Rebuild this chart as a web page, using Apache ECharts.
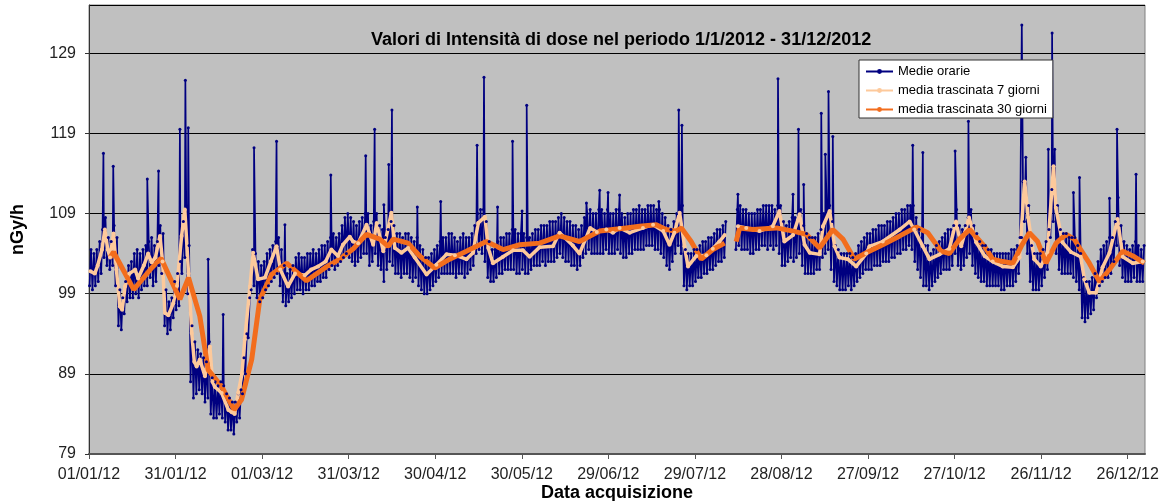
<!doctype html>
<html>
<head>
<meta charset="utf-8">
<title>Valori di Intensità di dose 2012</title>
<script src="https://cdn.jsdelivr.net/npm/echarts@6/dist/echarts.min.js"></script>
<style type="text/css">
	html, body {margin:0; padding:0; background:#fff;}
	#chart {width:1166px; height:501px;}
</style>
</head>
<body>
<div id="chart"></div>
<script type="text/javascript">
// etichette asse x, una ogni 30 giorni dal 01/01/12
var dateLabels = ['01/01/12','31/01/12','01/03/12','31/03/12','30/04/12','30/05/12','29/06/12',
                  '29/07/12','28/08/12','27/09/12','27/10/12','26/11/12','26/12/12'];

// medie orarie: minimo e massimo della fascia per ogni giorno (giorno 0 = 01/01/12)
var bandLo = [
	100, 99.5, 100, 100.5, 101.5, 103.5, 102.5, 102, 102.5, 100,
	95, 94.5, 96.5, 98, 98.5, 98.5, 99, 98.5, 99.5, 100,
	100, 101, 100, 100.5, 102.5, 101.5, 95, 94, 94.5, 96,
	97, 97.5, 101.5, 103.5, 99, 88, 86, 86.5, 87, 86.5,
	85.5, 86, 84, 83.5, 83.5, 84, 83.5, 83, 82, 82,
	81.5, 83, 83.5, 86.5, 89, 93.5, 99.5, 100, 98.5, 98,
	98.5, 99.5, 100, 100.5, 101, 101.5, 100, 98, 97.5, 98,
	98.5, 99, 99.5, 99.5, 99, 99.5, 99.5, 100, 100, 100.5,
	100.5, 101, 101, 102, 102.5, 102, 102.5, 103, 103.5, 104,
	103.5, 103, 102.5, 103, 103.5, 104, 104, 102.5, 103, 104,
	102.5, 102, 100.5, 102, 103, 102.5, 101.5, 101.5, 101, 101.5,
	101.5, 101, 100.5, 101, 100, 99.5, 99, 99, 99.5, 100,
	100.5, 101, 101.5, 101.5, 101.5, 101.5, 101.5, 101, 101.5, 101.5,
	101, 101.5, 102, 102.5, 104, 104.5, 104, 103, 101, 100.5,
	100.5, 101, 101.5, 101.5, 102, 102, 102, 102, 101.5, 101.5,
	102, 101.5, 101.5, 102, 102.5, 102.5, 102.5, 103, 102.5, 103,
	103, 103, 103.5, 104, 103.5, 103, 103, 102.5, 102.5, 102,
	102.5, 103.5, 104, 104.5, 104, 104, 104, 104, 104, 104.5,
	104, 104, 104, 104.5, 104, 103.5, 103.5, 104, 104, 104.5,
	104.5, 104.5, 104.5, 105, 105, 105, 104.5, 104.5, 104, 103.5,
	102.5, 102, 103, 104, 105, 104, 100, 99.5, 100, 100,
	100.5, 101, 101, 101.5, 101.5, 102, 102, 102.5, 103, 103,
	103.5, null, null, null, 104.5, 105, 104.5, 104.5, 104.5, 104,
	104, 104.5, 104.5, 105, 105, 104.5, 105, 104.5, 105, 104,
	102.5, 102.5, 103, 103.5, 103, 103.5, 104, 102.5, 101.5, 101.5,
	101.5, 101.5, 102, 102, 103.5, 104, 104.5, 102, 100.5, 100,
	99.5, 99.5, 99.5, 100, 99.5, 100, 100.5, 101, 101.5, 102,
	102, 102, 102.5, 102.5, 102.5, 103, 103, 103, 103.5, 103.5,
	104, 104, 104.5, 104.5, 105, 104.5, 103, 102, 101, 100,
	100, 99.5, 100, 100.5, 101, 101.5, 102, 102, 102, 102.5,
	104, 102.5, 102, 102.5, 103.5, 104, 102.5, 101.5, 101, 100.5,
	100.5, 100, 100, 100, 100, 100, 99.5, 99.5, 100, 100,
	100, 100.5, 101.5, 106, 108, 104, 100.5, 99.5, 99.5, 99.5,
	100, 101, 102, 106, 108, 104, 102, 101.5, 101.5, 101.5,
	101.5, 101, 100.5, 99.5, 96, 95.5, 96, 96.5, 97, 98.5,
	100, 100.5, 101, 101, 101.5, 103, 105, 102.5, 101, 100.5,
	100.5, 100.5, 101, 100.5, 100.5, 100.5
];
var bandHi = [
	104.5, 104, 104.5, 105.5, 107, 108.5, 106, 105.5, 107.5, 106,
	99.5, 98.5, 100.5, 102.5, 103, 104, 104.5, 104, 104.5, 105,
	105.5, 106, 105, 105.5, 107.5, 106.5, 99.5, 98, 98.5, 100.5,
	101.5, 103, 108, 110, 105, 95, 93, 92, 91.5, 91,
	90.5, 93, 88.5, 88, 87.5, 88, 87.5, 86.5, 86, 85.5,
	85.5, 86.5, 87, 91, 94, 98.5, 104.5, 104, 103, 102.5,
	103, 104, 104.5, 105, 105.5, 106, 104.5, 102.5, 101.5, 102,
	102.5, 103.5, 104, 103.5, 103.5, 104, 104, 104.5, 104, 104.5,
	105, 105, 105.5, 106, 106.5, 106, 106.5, 107.5, 108.5, 109,
	108.5, 108, 107.5, 108, 108.5, 109, 109, 107.5, 108, 109,
	107.5, 107, 106, 107, 108, 107.5, 106.5, 106.5, 106, 106.5,
	106.5, 106, 105.5, 106, 105, 104.5, 103.5, 103.5, 104, 104.5,
	105, 105.5, 106, 106, 106.5, 106.5, 106, 105.5, 106, 106.5,
	106, 106, 106.5, 107.5, 109, 109.5, 109.5, 108, 105.5, 104.5,
	104.5, 105.5, 106, 106, 106.5, 106.5, 107, 107, 106.5, 106.5,
	106.5, 106, 106, 106.5, 107, 107, 107.5, 107.5, 107.5, 108,
	108, 108, 108.5, 109, 108.5, 108, 108, 107.5, 107.5, 107,
	107.5, 108.5, 109, 109.5, 109, 109, 109.5, 109.5, 109, 109.5,
	109, 109, 109.5, 109.5, 109, 108.5, 109, 109, 109.5, 109.5,
	110, 109.5, 109.5, 110, 110, 110, 109.5, 109.5, 109, 108.5,
	107.5, 107, 108, 109, 110, 110, 104.5, 104, 104, 104.5,
	104.5, 105, 105.5, 105.5, 106, 106, 106.5, 107, 107, 107.5,
	108, null, null, null, 109.5, 110, 109.5, 109.5, 109, 109,
	109, 109.5, 109.5, 110, 110, 110, 110, 109.5, 110, 110,
	108, 107.5, 108, 108.5, 108.5, 109, 109.5, 107.5, 106.5, 106,
	106, 106, 106.5, 107, 109, 110, 110, 108, 105, 104.5,
	104, 104, 104, 104, 103.5, 104, 105, 105.5, 106, 106.5,
	106.5, 107, 107, 107.5, 107.5, 107.5, 108, 108, 108.5, 109,
	109, 109.5, 109.5, 110, 110, 110, 108.5, 107, 106, 105,
	105, 104, 104.5, 105, 105.5, 106, 106.5, 107, 107, 107.5,
	109.5, 107.5, 107, 107.5, 108.5, 109.5, 107.5, 106.5, 105.5, 105,
	105, 104.5, 104.5, 104, 104, 104, 104, 104, 104, 104.5,
	104.5, 105, 106, 113, 116, 110, 105, 104, 104, 104,
	104.5, 105.5, 107, 112, 117, 110, 107, 106.5, 106.5, 106,
	106, 106, 105, 104, 101, 100.5, 100.5, 101, 101.5, 103,
	104.5, 105, 105.5, 106, 106, 108, 111, 107.5, 105.5, 105,
	104.5, 105, 105.5, 105, 104.5, 105
];
// picchi delle medie orarie
var spikeDays = [5, 8.4, 20.2, 24.1, 31.5, 33.4, 34.4, 41.3, 46.5, 57.2, 65, 67.9, 83.8,
	95.9, 99, 102.2, 103.9, 105, 113.8, 121.9, 134.5, 136.9, 141.6, 146.8, 150.1, 151.7,
	172.4, 177, 179.9, 183.9, 197.5, 204.4, 205.5, 224.9, 238.8, 244, 245.9, 247.7,
	253.8, 255.2, 256.3, 257.8, 285.5, 289, 300.2, 304.8, 323.3, 332.5, 333.8, 341.2,
	343.3, 353.7, 356.3, 362.9];
var spikeValues = [116.5, 114.9, 113.3, 114.3, 119.5, 125.6, 119.7, 103.3, 96.4, 117.2, 118, 107.6, 113.8,
	116.2, 119.5, 110.1, 115.1, 121.9, 109.8, 110.5, 117.5, 126, 109.8, 118, 109.3, 122.5,
	110.3, 111.9, 111.6, 111.3, 110.5, 121.9, 120, 111.4, 125.8, 111.4, 119.5, 112.6,
	121.5, 116.4, 124.2, 118.6, 117.5, 116.6, 116.8, 120.5, 132.5, 117, 131.5, 111.6,
	113.5, 110.9, 119.5, 113.9];

// media trascinata 7 giorni
var avg7Days = [0.5, 2, 3, 4.5, 5.5, 6.5, 7.3, 8.5, 9.5, 10.7, 11.5, 12.5, 14, 16, 17, 19, 20.5, 21.7, 23,
	24.6, 25.5, 26.3, 27.5, 29.2, 30.5, 32.1, 33.2, 34.5, 35.6, 36.5, 37.3, 38.4, 40.2, 41.9, 42.8,
	43.6, 46, 48.3, 49.5, 50.5, 51.7, 53, 54, 55.8, 56.9, 58.6, 61, 63, 65, 66.3, 69, 71.4, 74.8,
	77, 79.4, 82, 84, 86.3, 88, 90.4, 91.5, 93.3, 96.2, 98.5, 99.7, 102, 104.8, 106, 108.3, 110.6,
	112.9, 117, 120.4, 123.9, 126.8, 130.8, 133.1, 134.9, 137.2, 138.4, 140, 143.5, 147, 150.4,
	152.7, 156.2, 160.8, 163.1, 167.7, 170, 173.7, 176, 179.3, 181.6, 183.9, 187.4, 192, 195.5,
	199, 201.2, 202.9, 204.7, 206.4, 207.6, 210.5, 214, 216.2, 218.5, 220.3, 222, 224.9, 227.8,
	232.4, 237, 239.3, 241, 244, 246.3, 248, 249.8, 253.2, 254.4, 256.7, 258.4, 260.1, 263,
	265.9, 269.4, 270.5, 275.1, 281, 284.4, 286, 289, 291.3, 294.8, 298.2, 300.5, 302.3, 305,
	307.5, 310.4, 313.2, 316.7, 320.2, 322.5, 324.3, 325.5, 327.6, 329.9, 332.2, 334.3, 335.1,
	337.4, 340.3, 343.7, 345, 346.7, 349, 351.3, 353.7, 356.5, 358.3, 361.8, 365.2];
var avg7 = [101.8, 101.5, 102.5, 104.5, 107, 104.5, 103.5, 106.5, 102, 97.4, 97, 99.9, 101.5, 102, 100.9, 102.5, 104, 102.9, 103.5,
	106.2, 103, 96.6, 96.3, 97.8, 100, 106.2, 109.5, 101.5, 94.1, 90.5, 89.9, 90.8, 88.7, 92.4, 88,
	87.4, 86.6, 84.5, 84.2, 84, 86.6, 89, 93.3, 99.9, 104.1, 100.8, 101, 103, 104.9, 102, 99.9, 101.5, 101.3,
	102, 102.4, 103, 104.5, 103.7, 105.1, 106.1, 105.5, 105.3, 107.6, 105.1, 107.8, 104.3, 109.1, 104.7, 104.1, 104.7,
	103.5, 101.4, 102.6, 103.9, 103.8, 103.3, 104.1, 107.8, 108.6, 104.7, 102.8, 103.6, 104.4, 104.4,
	103.6, 104.8, 104.9, 106.6, 105, 104, 107.2, 106.7, 107, 106.6, 107.2, 106.6, 107.2, 107.6,
	106.8, 105.1, 106.6, 109.1, 104.9, 102.4, 103.7, 103.8, 104.6, 105.5, 106.3, null, 107.4, 107.2,
	106.8, 107.4, 109.3, 105.5, 106.3, 108.9, 105.1, 104.1, 103.9, 107.4, 109.3, 104.9, 103.5, 103.3,
	102.4, 104, 104.9, 105.5, 107, 108, 107, 104.9, 103.3, 103.9, 104.6, 108, 104.9, 108.5,
	105.4, 103.7, 103, 102.4, 102.3, 103.5, 113, 108.5, 103.3, 102.4, 104.2, 114.9, 109.7,
	105.4, 104.2, 103.6, 100.8, 99.1, 99.1, 102.3, 104.1, 108.3, 103.6, 102.8, 103];

// media trascinata 30 giorni
var avg30Days = [7.3, 8.5, 13, 15.5, 21.7, 25, 31.5, 34.5, 38.4, 41.3, 46, 50.3, 52.9, 56.4, 59.2, 63.3,
	68.5, 75.4, 81.7, 86.9, 91.6, 96.2, 100.8, 103.7, 105.4, 110.6, 114.6, 119.8, 125, 130.8, 137.7,
	143.5, 149.3, 156.2, 163.1, 170, 177, 186.2, 190.8, 196.6, 200, 203.5, 205.3, 208.7, 212.2, 216.2,
	220.3, 222, 224.3, 225.5, 230.2, 238.2, 244, 248.6, 253.2, 257.8, 261.3, 265.3, 269.4, 275.1, 281,
	286.7, 290.7, 295.3, 298.2, 301.7, 305.2, 310.4, 313.2, 316.7, 320.2, 323.1, 325.9, 328.8, 331.7,
	335.2, 338.6, 341.5, 343.3, 346.7, 350.2, 353.7, 358.3, 361.8, 365.8];
var avg30 = [103.5, 104.2, 101.2, 99.5, 102.2, 103.4, 98.3, 101, 96.2, 89.5, 87.4, 84.5, 85.8, 90.8, 98.3, 101.4,
	102.8, 100.6, 102.2, 103.3, 104.6, 106.4, 105.8, 104.9, 105.8, 105.3, 103.7, 102.2, 103.3, 104.3, 105.5,
	104.5, 105.1, 105.3, 106.2, 105.5, 106.8, 107.2, 107.4, 107.6, 107, 106.8, 107.2, 105.5, 103.3, 104.5,
	105.3, null, 105.5, 107.2, 107, 107.2, 106.8, 106.4, 104.7, 107, 105.8, 103.3, 104.1, 105.1, 106.2,
	107.3, 106.6, 104.3, 104, 105.8, 107, 104.9, 103.3, 103, 102.8, 104.9, 106.6, 105.5, 102.8,
	105.3, 106.4, 105.8, 104.7, 102.8, 100.5, 102, 104.3, 103.7, 102.8];

function pairs(xs, ys) {
	var out = [];
	for (var i = 0; i < xs.length; i++) out.push([xs[i], ys[i]]);
	return out;
}

var hourly = [];
for (var d = 0; d < bandLo.length; d++) {
	if (bandLo[d] === null) { hourly.push([d + 0.5, null]); continue; }
	hourly.push([d + 0.2, bandLo[d]]);
	hourly.push([d + 0.7, bandHi[d]]);
}
for (var i = 0; i < spikeDays.length; i++) hourly.push([spikeDays[i], spikeValues[i]]);
hourly.sort(function(a, b){ return a[0] - b[0]; });

var FONT = '"Liberation Sans", Arial, sans-serif';

var chart = echarts.init(document.getElementById('chart'));
chart.setOption({
	animation: false,
	backgroundColor: '#ffffff',
	title: {
		text: 'Valori di Intensità di dose nel periodo 1/1/2012 - 31/12/2012',
		left: 366, top: 26,
		textStyle: {fontFamily: FONT, fontWeight: 'bold', fontSize: 18, color: '#000'}
	},
	legend: {
		orient: 'vertical', left: 859, top: 60,
		backgroundColor: '#fff', borderColor: '#333', borderWidth: 1, borderRadius: 0,
		padding: [5, 6, 2, 6], itemGap: 6, itemWidth: 27, itemHeight: 6,
		textStyle: {fontFamily: FONT, fontSize: 13, color: '#000'},
		data: ['Medie orarie', 'media trascinata 7 giorni', 'media trascinata 30 giorni']
	},
	grid: {
		left: 89, right: 21, top: 5, bottom: 47,
		outerBoundsMode: 'none',
		show: true, backgroundColor: '#c0c0c0', borderColor: '#808080', borderWidth: 1
	},
	xAxis: {
		type: 'value', min: 0, max: 366, interval: 30,
		name: 'Data acquisizione', nameLocation: 'middle', nameGap: 30, nameMoveOverlap: false,
		nameTextStyle: {fontFamily: FONT, fontWeight: 'bold', fontSize: 18, color: '#000'},
		axisLine: {lineStyle: {color: '#555', width: 2}},
		axisTick: {length: 5, lineStyle: {color: '#555'}},
		axisLabel: {
			fontFamily: FONT, fontSize: 16, color: '#222', margin: 13, showMaxLabel: false,
			formatter: function(v){ return dateLabels[Math.round(v / 30)] || ''; }
		},
		splitLine: {show: false}
	},
	yAxis: {
		type: 'value', min: 79, max: 135, interval: 10,
		name: 'nGy/h', nameLocation: 'middle', nameGap: 62, nameRotate: 90, nameMoveOverlap: false,
		nameTextStyle: {fontFamily: FONT, fontWeight: 'bold', fontSize: 18, color: '#000'},
		axisLine: {show: true, lineStyle: {color: '#333'}},
		axisTick: {show: true, length: 4, lineStyle: {color: '#333'}},
		axisLabel: {fontFamily: FONT, fontSize: 16, color: '#222', margin: 13, showMaxLabel: false},
		splitLine: {lineStyle: {color: '#000', width: 1}}
	},
	series: [
		{
			name: 'Medie orarie', type: 'line', data: hourly,
			symbol: 'circle', symbolSize: 3, showSymbol: true,
			lineStyle: {color: '#000080', width: 1.7},
			itemStyle: {color: '#000080'}
		},
		{
			name: 'media trascinata 7 giorni', type: 'line', data: pairs(avg7Days, avg7),
			symbol: 'circle', symbolSize: 4, showSymbol: true,
			lineStyle: {color: '#fdc99b', width: 3.5},
			itemStyle: {color: '#fdc99b'}
		},
		{
			name: 'media trascinata 30 giorni', type: 'line', data: pairs(avg30Days, avg30),
			symbol: 'circle', symbolSize: 3, showSymbol: false,
			lineStyle: {color: '#f26d1d', width: 5},
			itemStyle: {color: '#f26d1d'}
		}
	]
});
</script>
</body>
</html>
